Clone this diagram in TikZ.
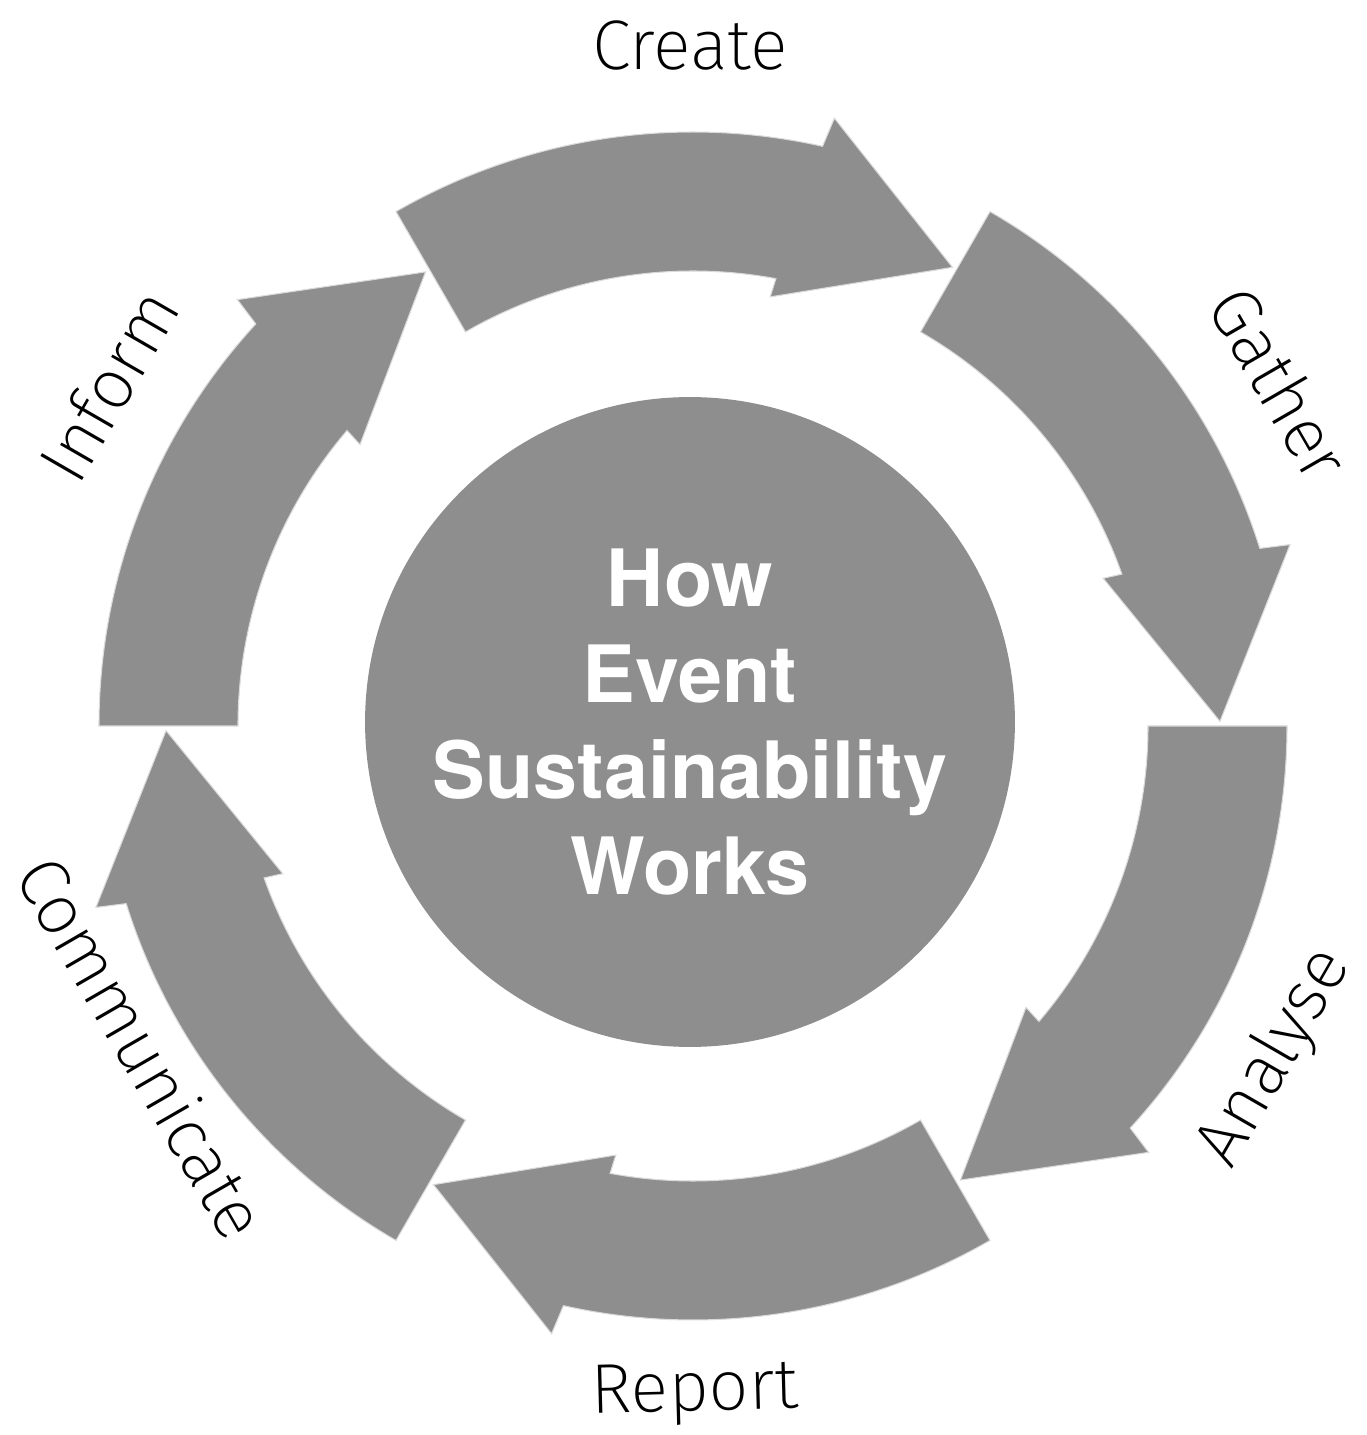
\documentclass[tikz,border=0pt]{standalone}
\usepackage{fontspec}
\setmainfont{TeX Gyre Heros}
\newfontfamily\thinfont{Fira Sans ExtraLight}
\usepackage{tikz}
\usetikzlibrary{positioning}
\definecolor{cyclegray}{RGB}{142,142,142}
\definecolor{rimgray}{RGB}{218,218,218}

\begin{document}
\begin{tikzpicture}[x=0.02cm, y=0.02cm,
  hub/.style={circle, fill=cyclegray, text=white, minimum size=13cm, inner sep=0pt, align=center, font=\bfseries\fontsize{45}{54.6}\selectfont},
  stage/.style={fill=cyclegray, draw=rimgray, line width=0.6pt, line join=miter},
  steplabel/.style={inner sep=0pt, font=\thinfont\fontsize{40}{40}\selectfont}
]
\useasboundingbox (-693,-709) rectangle (673,726);
\def\rin{455}
\def\rout{594}
% one bent arrow per 60 degrees, tip at \t
\foreach \t in {60,0,-60,-120,-180,120}
  \draw[stage] (\t+60:\rout) arc[start angle=\t+60, end angle=\t+17.4, radius=\rout]
    -- (\t+16.9:624) -- (\t+0.5:527) -- (\t+19.8:436) -- (\t+19.5:\rin)
    arc[start angle=\t+19.5, end angle=\t+60, radius=\rin] -- cycle;
\node[hub] (hub) at (-3,4) {How\\Event\\Sustainability\\Works};
\node[steplabel] (create) at (-3,680) {Create};
\node[steplabel, rotate=-60] (gather) at (587,343) {Gather};
\node[steplabel, rotate=60] (analyse) at (582,-332) {Analyse};
\node[steplabel, rotate=1.5] (report) at (2,-668) {Report};
\node[steplabel, rotate=-60] (communicate) at (-551,-321) {Communicate};
\node[steplabel, rotate=60] (inform) at (-585,341) {Inform};
\end{tikzpicture}
\end{document}
